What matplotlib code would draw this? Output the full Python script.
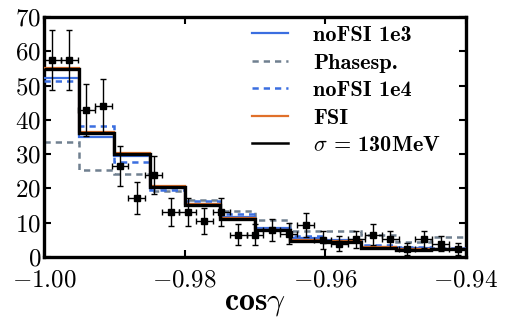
import numpy as np
import matplotlib
matplotlib.use('Agg')
import matplotlib.pyplot as plt
from matplotlib.lines import Line2D

plt.rcParams['font.family'] = 'serif'
plt.rcParams['font.serif'] = ['cmr10']
plt.rcParams['mathtext.fontset'] = 'cm'
plt.rcParams['axes.formatter.use_mathtext'] = True

# histogram bin edges (12 bins) and model curves
bin_edges = [-1.000, -0.995, -0.990, -0.985, -0.980, -0.975, -0.970,
             -0.965, -0.960, -0.955, -0.950, -0.945, -0.940]
nofsi_1e3 = [52.1, 35.1, 29.5, 20.0, 15.5, 11.6, 8.5, 5.5, 5.0, 3.0, 2.5, 2.3]
phasesp = [33.6, 25.5, 24.3, 19.3, 16.6, 13.4, 10.7, 7.5, 7.5, 6.4, 4.3, 5.8]
nofsi_1e4 = [51.2, 38.2, 27.6, 19.5, 16.3, 12.5, 8.2, 6.0, 5.0, 3.6, 2.9, 2.5]
fsi = [55.2, 36.4, 30.3, 20.6, 15.4, 11.3, 8.0, 4.9, 4.6, 2.8, 2.2, 2.4]
sigma130 = [54.8, 36.1, 30.0, 20.3, 15.1, 11.0, 7.8, 4.7, 4.4, 2.6, 2.0, 2.2]

# measured points (25 bins of width 0.0024)
data_x = [-0.9988, -0.9964, -0.9940, -0.9916, -0.9892, -0.9868, -0.9844,
          -0.9820, -0.9796, -0.9772, -0.9748, -0.9724, -0.9700, -0.9676,
          -0.9652, -0.9628, -0.9604, -0.9580, -0.9556, -0.9532, -0.9508,
          -0.9484, -0.9460, -0.9436, -0.9412]
data_y = [57.5, 57.5, 42.9, 44.1, 26.6, 17.3, 23.9, 13.2, 13.2, 10.5,
          13.2, 6.5, 6.5, 8.0, 6.8, 9.3, 4.9, 3.9, 5.1, 6.5,
          5.1, 2.4, 5.1, 3.9, 2.4]
data_yerr = [8.8, 8.8, 7.5, 7.8, 5.9, 4.7, 5.6, 4.1, 4.1, 3.7,
             4.1, 3.0, 3.0, 3.2, 3.0, 3.4, 2.6, 2.3, 2.6, 3.0,
             2.6, 1.8, 2.6, 2.3, 1.8]
data_xerr = 0.0012

fig, ax = plt.subplots(figsize=(5.06, 3.22), dpi=100)
fig.subplots_adjust(left=0.087, right=0.921, top=0.947, bottom=0.202)

ax.stairs(phasesp, bin_edges, color='#708090', lw=1.8, ls=(0, (2.5, 2.0)),
          baseline=None, zorder=2)
ax.stairs(nofsi_1e4, bin_edges, color='#3b6ee0', lw=1.8, ls=(0, (2.5, 2.0)),
          baseline=None, zorder=3)
ax.stairs(nofsi_1e3, bin_edges, color='#3b6ee0', lw=1.6,
          baseline=None, zorder=3)
ax.stairs(fsi, bin_edges, color='#e0702a', lw=1.6,
          baseline=None, zorder=4)
ax.stairs(sigma130, bin_edges, color='black', lw=2.4,
          baseline=None, zorder=5)

ax.errorbar(data_x, data_y, yerr=data_yerr, xerr=data_xerr, fmt='s',
            color='black', ms=4.5, elinewidth=1.0, capsize=2.5,
            capthick=1.0, zorder=6)

ax.set_xlim(-1.0, -0.94)
ax.set_ylim(0, 70)
ax.set_xticks([-1.00, -0.98, -0.96, -0.94])
ax.set_xticklabels([r'$-1.00$', r'$-0.98$', r'$-0.96$', r'$-0.94$'])
ax.set_yticks(range(0, 71, 10))
ax.tick_params(direction='in', length=5, width=1.5, top=True, right=True,
               labelsize=18, pad=2)
ax.tick_params(axis='x', pad=9)
for s in ax.spines.values():
    s.set_linewidth(2.4)

ax.set_xlabel(r'$\mathbf{cos}\gamma$', fontsize=23, labelpad=-1)

# legend
labels = ['noFSI 1e3', 'Phasesp.', 'noFSI 1e4', 'FSI', r'$\sigma$ = 130MeV']
handles = [
    Line2D([0], [0], color='#3b6ee0', lw=1.6),
    Line2D([0], [0], color='#708090', lw=1.8, ls=(0, (2.5, 2.0))),
    Line2D([0], [0], color='#3b6ee0', lw=1.8, ls=(0, (2.5, 2.0))),
    Line2D([0], [0], color='#e0702a', lw=1.6),
    Line2D([0], [0], color='black', lw=1.8),
]
ax.legend(handles, labels, loc='upper left', bbox_to_anchor=(0.493, 0.965),
          frameon=False, prop={'family': 'cmb10', 'size': 16},
          handlelength=1.62, labelspacing=0.36, borderaxespad=0,
          borderpad=0, handletextpad=1.13)

plt.savefig('out.png', dpi=100)
